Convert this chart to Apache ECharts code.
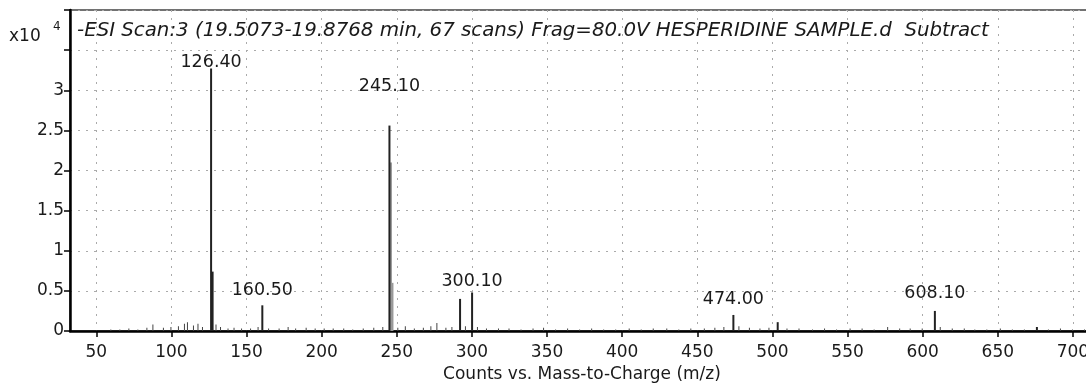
<!DOCTYPE html>
<html>
<head>
<meta charset="utf-8">
<script src="https://cdn.jsdelivr.net/npm/echarts@6/dist/echarts.min.js"></script>
<style>
  html, body { margin: 0; padding: 0; background: #fff; }
  #chart { width: 1086px; height: 383px; }
</style>
</head>
<body>
<div id="chart"></div>
<script>
// ---- data (intensities in units of 10^4 counts) ----
var xTicks = [50, 100, 150, 200, 250, 300, 350, 400, 450, 500, 550, 600, 650, 700];
var yTicks = [0, 0.5, 1, 1.5, 2, 2.5, 3];
var peakMz  = [126.40, 127.40, 160.50, 245.10, 292.10, 300.10, 474.00, 503.50, 608.10, 676.00];
var peakInt = [3.27,   0.74,   0.32,   2.56,   0.40,   0.48,   0.20,   0.11,   0.25,   0.05];
var isoMz  = [246.10, 247.10];
var isoInt = [2.10,   0.60];
var noiseMz  = [60, 66, 72, 78, 84, 88, 95, 100, 105, 109, 111, 115, 118, 121, 130, 133, 138, 142, 147, 153, 158, 165, 172, 178, 183, 190, 196, 202, 208, 215, 221, 228, 235, 241, 251, 256, 262, 268, 273, 277, 283, 287, 296, 304, 310, 318, 325, 333, 341, 348, 356, 364, 372, 380, 388, 396, 405, 413, 421, 430, 438, 446, 455, 462, 468, 478, 485, 492, 498, 510, 518, 527, 535, 543, 552, 560, 568, 577, 585, 592, 600, 612, 620, 628, 635, 643, 652, 660, 668, 684, 692, 700, 708];
var noiseInt = [0.02, 0.02, 0.03, 0.02, 0.04, 0.08, 0.04, 0.05, 0.06, 0.09, 0.11, 0.07, 0.09, 0.05, 0.08, 0.05, 0.03, 0.04, 0.03, 0.03, 0.05, 0.03, 0.03, 0.05, 0.03, 0.04, 0.03, 0.03, 0.03, 0.03, 0.02, 0.03, 0.04, 0.05, 0.04, 0.06, 0.03, 0.04, 0.06, 0.10, 0.04, 0.05, 0.06, 0.05, 0.03, 0.03, 0.03, 0.02, 0.03, 0.04, 0.02, 0.03, 0.02, 0.03, 0.02, 0.02, 0.03, 0.02, 0.03, 0.03, 0.02, 0.03, 0.03, 0.04, 0.05, 0.06, 0.04, 0.03, 0.04, 0.03, 0.03, 0.02, 0.03, 0.02, 0.03, 0.03, 0.02, 0.05, 0.03, 0.03, 0.03, 0.05, 0.03, 0.03, 0.02, 0.02, 0.03, 0.02, 0.02, 0.02, 0.03, 0.02, 0.02];
var labeledPeaks = ['126.40', '160.50', '245.10', '300.10', '474.00', '608.10'];
var titleText = '-ESI Scan:3 (19.5073-19.8768 min, 67 scans) Frag=80.0V HESPERIDINE SAMPLE.d  Subtract';
var xName = 'Counts vs. Mass-to-Charge (m/z)';

// ---- presentation ----
var FONT = '"DejaVu Sans", sans-serif';
var INK = '#1a1a1a';
var labelDistance = { '126.40': -3, '160.50': 6, '245.10': 30, '300.10': 2, '474.00': 6, '608.10': 8 };

function zip(xs, ys) { return xs.map(function (x, i) { return [x, ys[i]]; }); }

var mainData = peakMz.map(function (mz, i) {
  var key = mz.toFixed(2);
  var item = { value: [mz, peakInt[i]] };
  if (labeledPeaks.indexOf(key) >= 0) {
    item.label = {
      show: true, position: 'top', distance: labelDistance[key],
      formatter: key, fontSize: 17.5, fontFamily: FONT, color: INK
    };
  }
  return item;
});

var chart = echarts.init(document.getElementById('chart'), null, { renderer: 'canvas' });
chart.setOption({
  animation: false,
  backgroundColor: '#fff',
  title: {
    text: titleText, left: 72, top: 16,
    textStyle: { fontFamily: FONT, fontSize: 19.8, fontStyle: 'italic', fontWeight: 'normal', color: INK }
  },
  grid: {
    left: 70, right: -8, top: 10, bottom: 52, outerBoundsMode: 'none', containLabel: false,
    show: true, borderColor: '#444', borderWidth: 1.5, backgroundColor: 'transparent'
  },
  graphic: [
    { type: 'text', left: 9, top: 28, style: { text: 'x10', font: '17px ' + FONT, fill: INK } },
    { type: 'text', left: 53, top: 21, style: { text: '4', font: '12px ' + FONT, fill: INK } }
  ],
  xAxis: {
    type: 'value', min: 32.5, max: 714,
    name: xName, nameLocation: 'middle', nameGap: 33,
    nameTextStyle: { fontFamily: FONT, fontSize: 17, color: INK },
    axisLine: { show: true, onZero: false, lineStyle: { color: '#000', width: 2.5 } },
    axisTick: { show: true, length: 6, lineStyle: { color: '#000', width: 1.5 }, customValues: xTicks },
    axisLabel: { customValues: xTicks, margin: 13, fontFamily: FONT, fontSize: 17, color: INK },
    splitLine: { show: true, lineStyle: { color: '#aaa', width: 1, type: [2, 6] } }
  },
  yAxis: {
    type: 'value', min: 0, max: 4, interval: 0.5,
    axisLine: { show: true, lineStyle: { color: '#000', width: 2.5 } },
    axisTick: { show: true, length: 6, lineStyle: { color: '#000', width: 1.5 } },
    axisLabel: {
      margin: 6, fontFamily: FONT, fontSize: 17, color: INK,
      formatter: function (v) { return yTicks.indexOf(v) >= 0 ? String(v) : ''; }
    },
    splitLine: { show: true, lineStyle: { color: '#aaa', width: 1, type: [2, 6] } }
  },
  series: [
    { type: 'bar', name: 'noise', data: zip(noiseMz, noiseInt), barWidth: 1, barGap: '-100%', itemStyle: { color: '#444' }, silent: true },
    { type: 'bar', name: 'isotopes', data: zip(isoMz, isoInt), barWidth: 2, barGap: '-100%', itemStyle: { color: '#999' }, silent: true },
    { type: 'bar', name: 'peaks', data: mainData, barWidth: 2, barGap: '-100%', itemStyle: { color: '#222' }, silent: true }
  ]
});
</script>
</body>
</html>
